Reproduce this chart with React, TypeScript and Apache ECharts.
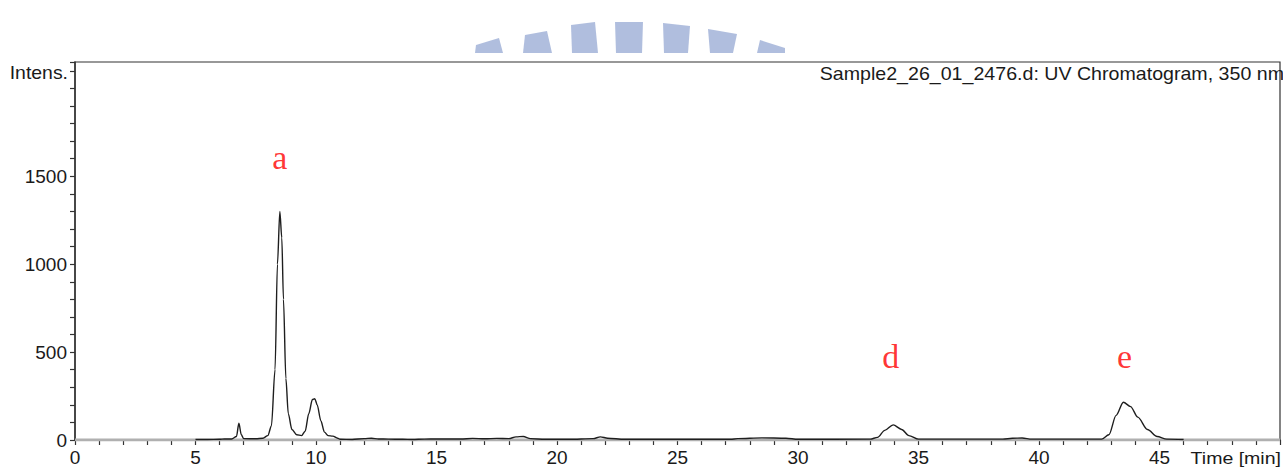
import React, { useEffect, useRef } from "react";
import * as echarts from "echarts";

// Retention time (min) and intensity of the UV trace (350 nm)
const times = [
  5.0, 5.5, 6.0, 6.2, 6.5, 6.7, 6.8, 6.9, 7.0, 7.5, 7.8, 8.0, 8.15, 8.3, 8.4, 8.5, 8.58, 8.65, 8.75, 8.85,
  9.0, 9.2, 9.4, 9.55, 9.7, 9.85, 9.95, 10.05, 10.2, 10.35, 10.5, 10.7, 10.9, 11.0, 11.5, 12.0, 12.3, 12.6,
  13.0, 13.6, 14.0, 14.5, 15.0, 16.0, 16.5, 17.0, 17.5, 18.0, 18.3, 18.6, 18.9, 19.5, 20.5, 21.5, 21.8,
  22.1, 22.8, 27.2, 27.5, 28.5, 29.5, 30.0, 33.0, 33.3, 33.6, 33.95, 34.3, 34.6, 35.0, 38.5, 38.9, 39.3,
  39.7, 42.6, 42.9, 43.2, 43.5, 43.8, 44.1, 44.5, 44.9, 45.3, 46.0,
];
const intensity = [
  3, 3, 4, 6, 6, 20, 95, 30, 8, 7, 10, 25, 80, 400, 1000, 1300, 1150, 800, 350, 150,
  60, 30, 25, 50, 150, 230, 235, 200, 110, 45, 25, 22, 10, 4, 3, 8, 10, 6,
  5, 4, 3, 5, 6, 6, 9, 7, 9, 8, 18, 20, 8, 4, 4, 8, 18,
  10, 4, 4, 8, 12, 10, 4, 5, 15, 55, 86, 60, 25, 5, 5, 10, 11,
  5, 5, 30, 140, 215, 190, 130, 60, 20, 5, 3,
];
const baselineTimes = [0, 50];
const baselineValues = [0, 0];

const peakLabels = ["a", "d", "e"];
const peakLabelTimes = [8.5, 33.85, 43.55];
const peakLabelValues = [1605, 475, 475];

const xTickLabels = [0, 5, 10, 15, 20, 25, 30, 35, 40, 45];
const yTickLabels = [0, 500, 1000, 1500];

const titleText = "Sample2_26_01_2476.d: UV Chromatogram, 350 nm";

const wmColor = "#acbbdc";
const watermark = [
  [[475, 53], [476, 45], [499, 38], [503, 53]],
  [[523, 53], [525, 35], [547, 31], [552, 53]],
  [[572, 53], [571, 25], [595, 22], [598, 53]],
  [[616, 53], [615, 22], [643, 22], [642, 53]],
  [[664, 53], [663, 23], [690, 26], [688, 53]],
  [[710, 53], [708, 29], [737, 34], [733, 53]],
  [[757, 53], [760, 40], [785, 48], [785, 53]],
];

export default function App() {
  const ref = useRef<HTMLDivElement>(null);
  useEffect(() => {
    if (!ref.current) return;
    const chart = echarts.init(ref.current, null, { renderer: "svg" });
    const font = "Liberation Sans, Arial, sans-serif";
    const trace = times.map((t, i) => [t, intensity[i]]);
    const base = baselineTimes.map((t, i) => [t, baselineValues[i]]);
    const labelsData = peakLabels.map((l, i) => ({ value: [peakLabelTimes[i], peakLabelValues[i]], name: l }));
    chart.setOption({
      animation: false,
      backgroundColor: "#ffffff",
      grid: {
        left: 75, right: 3, top: 62, bottom: 28,
        show: true, borderColor: "#333", borderWidth: 1.2, backgroundColor: "transparent",
      },
      xAxis: {
        type: "value", min: 0, max: 50, interval: 1,
        axisLine: { show: true, lineStyle: { color: "#333", width: 1.5 } },
        axisTick: { show: true, length: 5, lineStyle: { color: "#333", width: 1.2 } },
        splitLine: { show: false },
        axisLabel: {
          color: "#1a1a1a", fontSize: 19, fontFamily: font, margin: 8,
          formatter: (v: number) => (xTickLabels.includes(v) ? String(v) : ""),
        },
      },
      yAxis: {
        type: "value", min: 0, max: 2150, interval: 100,
        axisLine: { show: true, lineStyle: { color: "#333", width: 1.5 } },
        axisTick: { show: true, length: 5, lineStyle: { color: "#333", width: 1.2 } },
        splitLine: { show: false },
        axisLabel: {
          color: "#1a1a1a", fontSize: 19, fontFamily: font, margin: 8,
          formatter: (v: number) => (yTickLabels.includes(v) ? String(v) : ""),
        },
      },
      graphic: [
        ...watermark.map((pts) => ({
          type: "polygon", z: -1, shape: { points: pts }, style: { fill: wmColor, opacity: 0.95 },
        })),
        {
          type: "text", x: 1284, y: 74, z: 10, scaleX: 1.09,
          style: { text: titleText, fill: "#1a1a1a", font: `18px ${font}`, align: "right", verticalAlign: "middle" },
        },
        {
          type: "text", x: 68, y: 73, z: 10, scaleX: 1.08,
          style: { text: "Intens.", fill: "#1a1a1a", font: `18px ${font}`, align: "right", verticalAlign: "middle" },
        },
        {
          type: "text", x: 1281, y: 458, z: 10, scaleX: 1.15,
          style: { text: "Time [min]", fill: "#1a1a1a", font: `17px ${font}`, align: "right", verticalAlign: "middle" },
        },
      ],
      series: [
        {
          type: "line", data: base, symbol: "none", silent: true,
          lineStyle: { color: "#b0b0b0", width: 3 }, z: 1,
        },
        {
          type: "line", data: trace, symbol: "none", smooth: 0.3, smoothMonotone: "x",
          lineStyle: { color: "#1e1e1e", width: 1.4 }, z: 2,
        },
        {
          type: "scatter", data: labelsData, symbolSize: 0, silent: true,
          label: {
            show: true, position: "inside", formatter: (p: any) => p.name,
            color: "#ff0000", fontSize: 34, fontFamily: "Liberation Serif, Times New Roman, serif",
          },
        },
      ],
    });
    return () => chart.dispose();
  }, []);
  return <div ref={ref} style={{ width: 1283, height: 468, position: "absolute", left: 0, top: 0 }} />;
}
